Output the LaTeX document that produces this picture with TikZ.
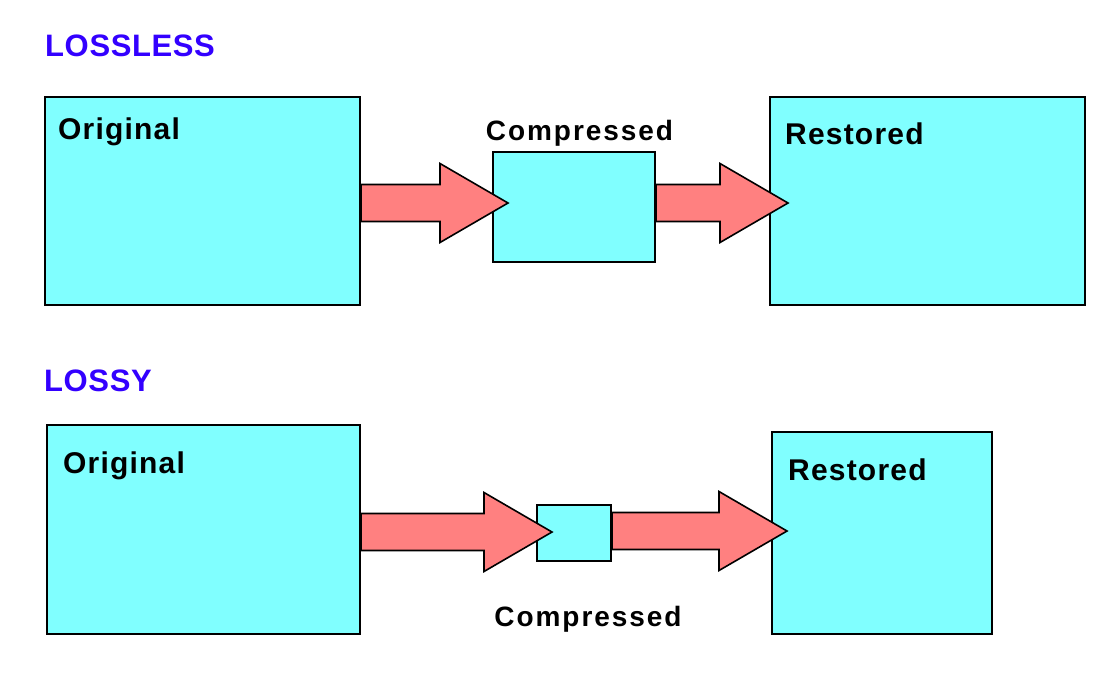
\documentclass[tikz,border=0pt]{standalone}
\usepackage{fontspec}
\setmainfont{Liberation Sans}
\usetikzlibrary{calc}
\definecolor{boxcyan}{RGB}{128,255,255}
\definecolor{arrowred}{RGB}{255,128,128}
\definecolor{titleblue}{RGB}{51,0,255}
\newcommand\fatarrow[2]{%
  \draw[fatarrow] ($(#1)+(0,-18.5)$) -- ($(#2)+(-68,-18.5)$) -- ($(#2)+(-68,-39.5)$) -- (#2)
    -- ($(#2)+(-68,39.5)$) -- ($(#2)+(-68,18.5)$) -- ($(#1)+(0,18.5)$) -- cycle;}
\begin{document}
\begin{tikzpicture}[x=1pt,y=-1pt,
  box/.style={draw=black,line width=2pt,fill=boxcyan,inner sep=0pt},
  fatarrow/.style={draw=black,line width=1.6pt,fill=arrowred,line join=miter},
  lbl/.style={font=\fontsize{30}{30}\selectfont\bfseries\addfontfeature{LetterSpace=4},inner sep=0pt,anchor=base west},
  clbl/.style={font=\fontsize{28}{28}\selectfont\bfseries\addfontfeature{LetterSpace=7},inner sep=0pt,anchor=base},
  title/.style={font=\fontsize{31}{31}\selectfont\bfseries\addfontfeature{LetterSpace=2},text=titleblue,inner sep=0pt,anchor=base west}]
\useasboundingbox[fill=white] (0,0) rectangle (1118,673);
% LOSSLESS
\node[title] (t1) at (45,56) {LOSSLESS};
\node[box,minimum width=315pt,minimum height=208pt] (o1) at (202.5,201) {};
\node[box,minimum width=162pt,minimum height=110pt] (c1) at (574,207) {};
\node[box,minimum width=315pt,minimum height=208pt] (r1) at (927.5,201) {};
\node[lbl] (o1l) at (58,139) {Original};
\node[clbl] (c1l) at (579.5,140) {Compressed};
\node[lbl] (r1l) at (785,144) {Restored};
\coordinate (a1s) at (o1.east |- 0,203);
\coordinate (a1t) at (508,203);
\coordinate (a2s) at (c1.east |- 0,203);
\coordinate (a2t) at (788,203);
\fatarrow{a1s}{a1t}
\fatarrow{a2s}{a2t}
% LOSSY
\node[title] (t2) at (44,391) {LOSSY};
\node[box,minimum width=313pt,minimum height=209pt] (o2) at (203.5,529.5) {};
\node[box,minimum width=74pt,minimum height=56pt] (c2) at (574,533) {};
\node[box,minimum width=220pt,minimum height=202pt] (r2) at (882,533) {};
\node[lbl] (o2l) at (63,473) {Original};
\node[clbl] (c2l) at (588,626) {Compressed};
\node[lbl] (r2l) at (788,480) {Restored};
\coordinate (b1s) at (o2.east |- 0,532);
\coordinate (b1t) at (552,532);
\coordinate (b2s) at (c2.east |- 0,531);
\coordinate (b2t) at (787,531);
\fatarrow{b1s}{b1t}
\fatarrow{b2s}{b2t}
\end{tikzpicture}
\end{document}
